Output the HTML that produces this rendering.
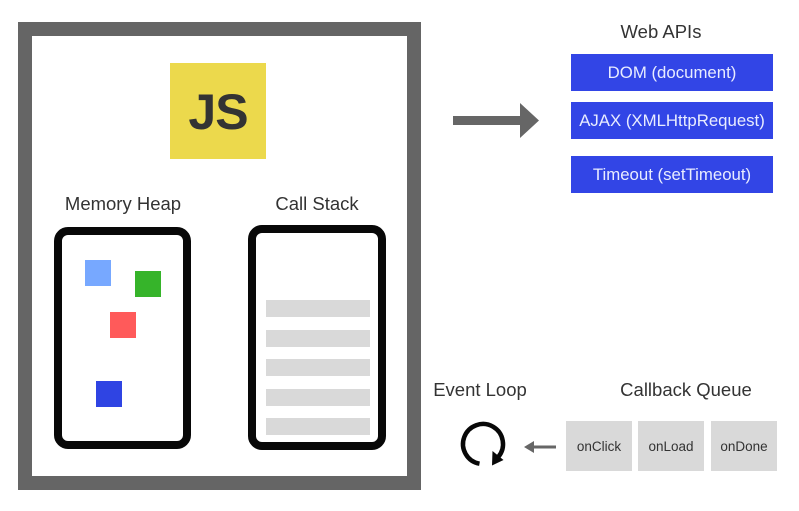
<!DOCTYPE html>
<html><head><style>
body{margin:0;width:799px;height:511px;background:#fff;position:relative;overflow:hidden;font-family:"Liberation Sans",sans-serif;color:#333}
.a{position:absolute}
.t{position:absolute;font-size:18.5px;color:#333;text-align:center;white-space:nowrap}
.wb{position:absolute;left:571px;width:202px;height:37px;background:#3245e6;color:#e8ecff;font-size:16.8px;display:flex;align-items:center;justify-content:center}
.q{position:absolute;top:421px;width:66px;height:50px;background:#d9d9d9;font-size:13.5px;display:flex;align-items:center;justify-content:center;color:#333}
.bar{position:absolute;left:266px;width:104px;height:17px;background:#d9d9d9}
</style></head><body>
<div class="a" style="left:18px;top:22px;width:375px;height:440px;border:14px solid #656565;background:#fff"></div>
<div class="a" style="left:170px;top:63px;width:96px;height:96px;background:#ecd94c"></div>
<div class="a" style="left:170px;top:84px;width:96px;text-align:center;font-size:50px;font-weight:bold;color:#333;line-height:56px;letter-spacing:-1px">JS</div>
<div class="t" style="left:54px;top:193px;width:138px">Memory Heap</div>
<div class="t" style="left:248px;top:193px;width:138px">Call Stack</div>
<div class="a" style="left:54px;top:227px;width:121px;height:206px;border:8px solid #080808;border-radius:14px"></div>
<div class="a" style="left:248px;top:225px;width:122px;height:209px;border:8px solid #080808;border-radius:14px"></div>
<div class="a" style="left:85px;top:260px;width:26px;height:26px;background:#77a8ff"></div>
<div class="a" style="left:135px;top:271px;width:26px;height:26px;background:#36b42a"></div>
<div class="a" style="left:110px;top:312px;width:26px;height:26px;background:#ff5a5a"></div>
<div class="a" style="left:96px;top:381px;width:26px;height:26px;background:#2f44e3"></div>
<div class="bar" style="top:300px"></div><div class="bar" style="top:330px"></div><div class="bar" style="top:359px"></div><div class="bar" style="top:389px"></div><div class="bar" style="top:418px"></div>
<svg class="a" style="left:0;top:0" width="799" height="511">
<polygon points="453,116 520,116 520,103 539,120.5 520,138 520,125 453,125" fill="#666"/>
<line x1="532" y1="447" x2="556" y2="447" stroke="#666" stroke-width="3"/>
<polygon points="524,447 534,441 534,453" fill="#666"/>
<path d="M479.5,463.7 A20,20 0 1 1 498.3,456.9" fill="none" stroke="#080808" stroke-width="4.5"/>
<polygon points="503.5,460 492.5,451 492,465.5" fill="#080808"/>
</svg>
<div class="t" style="left:571px;top:21px;width:180px">Web APIs</div>
<div class="wb" style="top:54px">DOM (document)</div>
<div class="wb" style="top:102px">AJAX (XMLHttpRequest)</div>
<div class="wb" style="top:156px">Timeout (setTimeout)</div>
<div class="t" style="left:420px;top:379px;width:120px">Event Loop</div>
<div class="t" style="left:596px;top:379px;width:180px">Callback Queue</div>
<div class="q" style="left:566px">onClick</div>
<div class="q" style="left:638px">onLoad</div>
<div class="q" style="left:711px">onDone</div>
</body></html>
